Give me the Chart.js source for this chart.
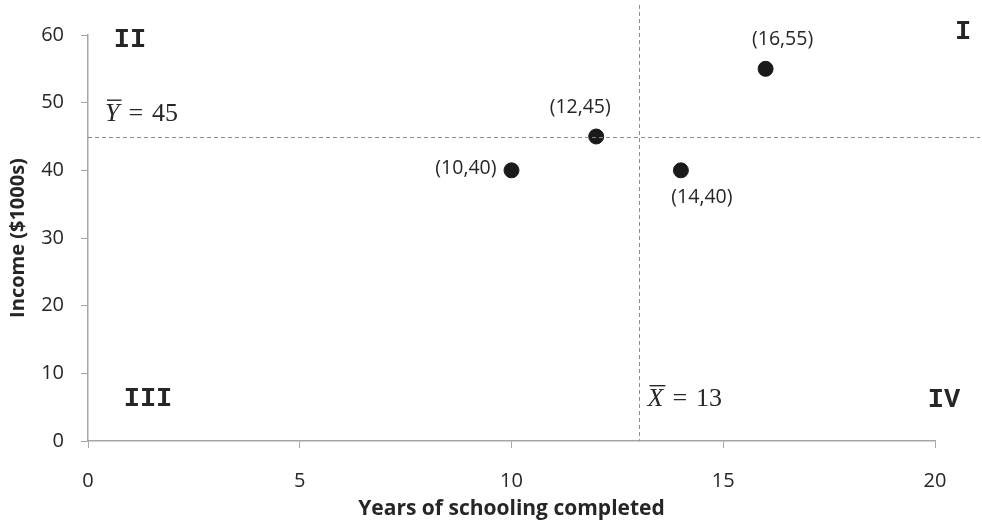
<!DOCTYPE html>
<html>
<head>
<meta charset="utf-8">
<script src="https://cdn.jsdelivr.net/npm/chart.js@4/dist/chart.umd.min.js"></script>
<style>
html,body{margin:0;padding:0;background:#fff;}
#wrap{width:982px;height:529px;position:relative;}
</style>
</head>
<body>
<div id="wrap"><canvas id="c" width="982" height="529"></canvas></div>
<script>
const xValues = [10, 12, 14, 16];
const yValues = [40, 45, 40, 55];
const meanX = 13;
const meanY = 45;
const xTicks = [0, 5, 10, 15, 20];
const yTicks = [0, 10, 20, 30, 40, 50, 60];
const quadrantLabels = ['I', 'II', 'III', 'IV'];
const labelPositions = ['left', 'aboveLeft', 'belowRight', 'above'];

const pts = xValues.map((x, i) => ({x: x, y: yValues[i]}));
const axisColor = '#a6a6a6';
const textColor = '#262626';
const sansFont = "'Open Sans', 'Noto Sans', sans-serif";

const overlay = {
  id: 'overlay',
  afterDatasetsDraw(chart) {
    const ctx = chart.ctx;
    const xs = chart.scales.x, ys = chart.scales.y;
    const area = chart.chartArea;
    const px = xs.getPixelForValue(meanX);
    const py = ys.getPixelForValue(meanY);
    ctx.save();
    ctx.strokeStyle = '#8c8c8c';
    ctx.lineWidth = 1;
    ctx.setLineDash([4, 3]);
    ctx.beginPath();
    ctx.moveTo(Math.round(px) + 0.5, 5);
    ctx.lineTo(Math.round(px) + 0.5, area.bottom);
    ctx.moveTo(area.left, Math.round(py) + 0.5);
    ctx.lineTo(chart.width - 2, Math.round(py) + 0.5);
    ctx.stroke();
    ctx.setLineDash([]);

    // point labels
    ctx.fillStyle = textColor;
    ctx.font = "19.5px " + sansFont;
    ctx.textBaseline = 'middle';
    pts.forEach((p, i) => {
      const x = xs.getPixelForValue(p.x), y = ys.getPixelForValue(p.y);
      const t = '(' + p.x + ',' + p.y + ')';
      const pos = labelPositions[i];
      if (pos === 'above') { ctx.textAlign = 'center'; ctx.fillText(t, x + 17, y - 29); }
      else if (pos === 'aboveLeft') { ctx.textAlign = 'center'; ctx.fillText(t, x - 16, y - 29); }
      else if (pos === 'left') { ctx.textAlign = 'right'; ctx.fillText(t, x - 15, y - 2); }
      else { ctx.textAlign = 'center'; ctx.fillText(t, x + 21, y + 27); }
    });

    // mean labels
    ctx.textAlign = 'left'; ctx.textBaseline = 'alphabetic';
    const drawMean = (letter, val, x, y) => {
      ctx.font = "italic 26px 'Liberation Serif', serif";
      ctx.fillText(letter, x, y);
      const w = ctx.measureText(letter).width;
      ctx.fillRect(x + 2, y - 21, w, 1.4);
      ctx.font = "26px 'Liberation Serif', serif";
      ctx.fillText('=', x + w + 9, y);
      const we = ctx.measureText('=').width;
      ctx.fillText(String(val), x + w + 9 + we + 9, y);
    };
    drawMean('Y', meanY, area.left + 17, py - 16);
    drawMean('X', meanX, px + 9, ys.getPixelForValue(0) - 35);

    // quadrant labels
    ctx.font = "bold 27px 'Liberation Mono', 'DejaVu Sans Mono', monospace";
    ctx.textBaseline = 'middle';
    ctx.textAlign = 'center';
    const y0 = ys.getPixelForValue(0);
    ctx.fillText(quadrantLabels[0], xs.getPixelForValue(20) + 28, area.top - 3);
    ctx.fillText(quadrantLabels[1], area.left + 42, area.top + 5);
    ctx.fillText(quadrantLabels[2], area.left + 60, y0 - 42);
    ctx.fillText(quadrantLabels[3], xs.getPixelForValue(20) + 9, y0 - 41);
    ctx.restore();
  }
};

new Chart(document.getElementById('c'), {
  type: 'scatter',
  data: {
    datasets: [{
      data: pts,
      backgroundColor: '#1a1a1a',
      borderColor: '#1a1a1a',
      pointRadius: 7.5,
      pointHoverRadius: 7.5
    }]
  },
  options: {
    responsive: false,
    animation: false,
    events: [],
    layout: { padding: { top: 35, right: 47, left: 6, bottom: 6 } },
    plugins: { legend: { display: false }, tooltip: { enabled: false } },
    scales: {
      x: {
        type: 'linear', min: 0, max: 20,
        afterBuildTicks: (s) => { s.ticks = xTicks.map(v => ({value: v})); },
        afterFit: (s) => { s.height = 82; },
        grid: { drawOnChartArea: false, drawTicks: true, tickLength: 7, color: axisColor },
        border: { color: axisColor, width: 1.5 },
        ticks: { color: textColor, font: { size: 20, family: sansFont }, padding: 21, maxRotation: 0 },
        title: { display: true, text: 'Years of schooling completed', color: textColor, font: { size: 21, weight: 'bold', family: sansFont }, padding: { top: 0, bottom: 1 } }
      },
      y: {
        type: 'linear', min: 0, max: 60,
        afterBuildTicks: (s) => { s.ticks = yTicks.map(v => ({value: v})); },
        afterFit: (s) => { s.width = 82; },
        grid: { drawOnChartArea: false, drawTicks: true, tickLength: 7, color: axisColor },
        border: { color: axisColor, width: 1.5 },
        ticks: { color: textColor, font: { size: 20, family: sansFont }, padding: 17 },
        title: { display: true, text: 'Income ($1000s)', color: textColor, font: { size: 20, weight: 'bold', family: sansFont }, padding: { top: 0, bottom: 11 } }
      }
    }
  },
  plugins: [overlay]
});
</script>
</body>
</html>
